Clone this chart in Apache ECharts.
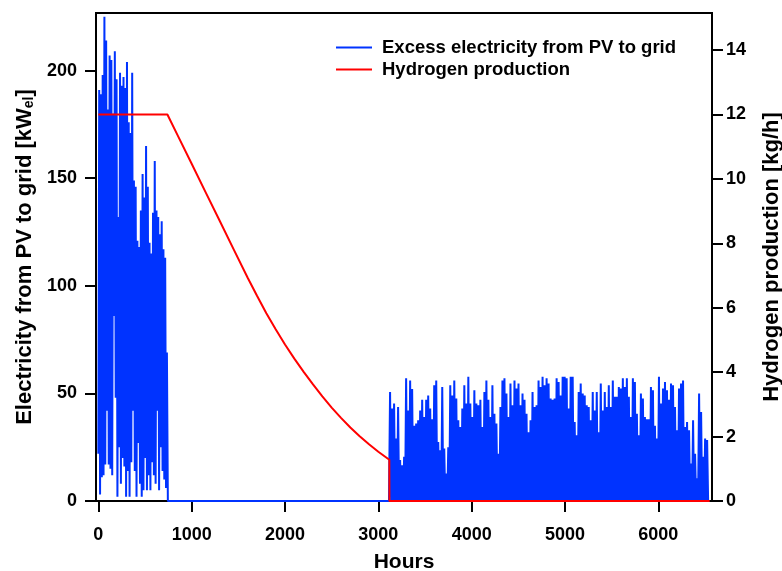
<!DOCTYPE html>
<html>
<head>
<meta charset="utf-8">
<script src="https://cdn.jsdelivr.net/npm/echarts@6/dist/echarts.min.js"></script>
<style>
html,body{margin:0;padding:0;background:#fff;}
#chart{width:782px;height:571px;}
</style>
</head>
<body>
<div id="chart"></div>
<script>
// ---------- DATA ----------
// Segment 1: hours 0..744, alternating troughs / peaks of excess PV power [kW_el]
const seg1Start = 0;
const seg1Step = 18.6; // hours between successive trough/peak pairs
const seg1Peaks = [191, 189, 198, 225, 214, 182, 207, 205, 180, 209, 196, 132, 199, 193, 197, 192, 204, 176, 171, 199,
  149, 146, 121, 118, 135, 152, 141, 165, 146, 120, 115, 134, 158, 135, 132, 124, 130, 117, 113, 69];
const seg1Troughs = [22, 3, 11, 12, 17, 42, 17, 15, 12, 86, 48, 2, 25, 8, 20, 16, 2, 14, 2, 18,
  42, 14, 2, 27, 8, 2, 5, 20, 5, 12, 5, 18, 12, 8, 42, 5, 25, 14, 10, 6];
const zeroSpan = [745, 3114]; // hours with zero excess power
// Segment 2: hours ~3115..6535, daily peaks with zero at night
const seg2Start = 3115;
const seg2Step = 21.5;
const seg2Peaks = [50.7, 43, 45.3, 29, 43.7, 19, 16.6, 20.5, 57, 42, 56, 52, 35, 36, 37.5, 42, 47, 39, 47, 49,
  43, 38, 53.8, 56, 27.4, 23.6, 53, 24.4, 12.8, 25, 53.8, 49, 56, 47.6, 37.5, 34.4, 43, 53.8, 45.3, 57.7,
  45.3, 39, 51.5, 45.3, 44.5, 47, 34.4, 50.7, 56, 47, 39, 53.8, 40.6, 36, 22, 43.7, 56, 57, 50, 39,
  54.6, 44.5, 56, 52.3, 54.6, 44.5, 50, 47, 40.6, 32, 37.5, 50.7, 43.7, 44.5, 56, 53, 57.7, 53.8, 57, 54.6,
  47.6, 47, 47.6, 57, 55.3, 49, 57.7, 57.7, 57, 43, 57.7, 57.7, 36.7, 30.6, 50.7, 54.6, 50, 49, 44.5, 43.7,
  37.5, 50.7, 42, 50.7, 32, 54.6, 42, 50.7, 43.7, 53.8, 43.7, 56, 48.4, 48.4, 53, 52.3, 57, 53, 57, 48.4,
  39, 57, 55.3, 40.6, 30.6, 50, 47.6, 39, 38, 38, 53, 51.5, 35, 29, 57.7, 45.3, 52.3, 55.3, 51.5, 47,
  54.6, 53.8, 43.7, 32.9, 52.3, 54.6, 56, 34.4, 36.7, 32.9, 17.4, 37.5, 22, 10.5, 50, 41.4, 20.5, 29, 28.4];

// Hydrogen production [kg/h]
const h2Hours = [0, 740, 850, 1000, 1150, 1300, 1450, 1600, 1700, 1800, 1900, 2000, 2100, 2200, 2300, 2400,
  2500, 2600, 2700, 2800, 2900, 3000, 3118, 3119, 6550];
const h2Values = [12, 12, 11.35, 10.47, 9.58, 8.70, 7.81, 6.93, 6.37, 5.83, 5.33, 4.86, 4.42, 4.01, 3.62, 3.25,
  2.90, 2.58, 2.28, 2.01, 1.76, 1.53, 1.28, 0, 0];

const xTicks = [0, 1000, 2000, 3000, 4000, 5000, 6000];
const yLeftTicks = [0, 50, 100, 150, 200];
const yRightTicks = [0, 2, 4, 6, 8, 10, 12, 14];
const seriesNames = ['Excess electricity from PV to grid', 'Hydrogen production'];

// ---------- build series ----------
const pvData = [];
for (let i = 0; i < seg1Peaks.length; i++) {
  const t = seg1Start + i * seg1Step;
  pvData.push([t, seg1Troughs[i]]);
  pvData.push([t + seg1Step / 2, seg1Peaks[i]]);
}
pvData.push([zeroSpan[0], 0]);
pvData.push([zeroSpan[1], 0]);
for (let i = 0; i < seg2Peaks.length; i++) {
  const t = seg2Start + i * seg2Step;
  pvData.push([t, 0]);
  pvData.push([t + seg2Step / 2, seg2Peaks[i]]);
}
pvData.push([seg2Start + seg2Peaks.length * seg2Step, 0]);
const h2Data = h2Hours.map((h, i) => [h, h2Values[i]]);

const FONT = '"Liberation Sans", Arial, Helvetica, sans-serif';
const chart = echarts.init(document.getElementById('chart'), null, {renderer: 'canvas'});
const axisLine = {show: true, onZero: false, lineStyle: {color: '#000', width: 2}};
const tickStyle = {lineStyle: {color: '#000', width: 2}};
const labelStyle = {color: '#000', fontSize: 18, fontWeight: 'bold', fontFamily: FONT};
const plain = v => String(v);

chart.setOption({
  animation: false,
  backgroundColor: '#fff',
  grid: {left: 96, right: 70, top: 13, bottom: 70, show: true, borderColor: '#000', borderWidth: 2,
    containLabel: false, outerBoundsMode: 'none'},
  legend: {
    data: seriesNames,
    orient: 'vertical',
    left: 331, top: 33,
    icon: 'rect', itemWidth: 36, itemHeight: 2, itemGap: 3,
    textStyle: {color: '#000', fontSize: 18.5, fontWeight: 'bold', fontFamily: FONT, padding: [0, 0, 0, 5]}
  },
  xAxis: {
    type: 'value', min: -25, max: 6575,
    name: 'Hours', nameLocation: 'middle', nameGap: 51,
    nameTextStyle: {color: '#000', fontSize: 21, fontWeight: 'bold', fontFamily: FONT},
    axisLine: axisLine,
    axisTick: {show: true, inside: false, length: 11, customValues: xTicks, ...tickStyle},
    axisLabel: {customValues: xTicks, margin: 25, formatter: plain, ...labelStyle},
    splitLine: {show: false}
  },
  yAxis: [{
    type: 'value', min: 0, max: 226.8, position: 'left',
    name: '{a|Electricity from PV to grid [kW}{s|el}{a|]}', nameLocation: 'middle', nameGap: 53,
    nameTextStyle: {rich: {
      a: {color: '#000', fontSize: 22, fontWeight: 'bold', fontFamily: FONT},
      s: {color: '#000', fontSize: 14, fontWeight: 'bold', fontFamily: FONT, verticalAlign: 'bottom', padding: [9, 0, 0, 0]}
    }},
    axisLine: axisLine,
    axisTick: {show: true, inside: false, length: 11, customValues: yLeftTicks, ...tickStyle},
    axisLabel: {customValues: yLeftTicks, margin: 19, formatter: plain, ...labelStyle},
    splitLine: {show: false}
  }, {
    type: 'value', min: 0, max: 15.15, position: 'right',
    name: 'Hydrogen production [kg/h]', nameLocation: 'middle', nameGap: 49,
    nameTextStyle: {color: '#000', fontSize: 22, fontWeight: 'bold', fontFamily: FONT},
    axisLine: axisLine,
    axisTick: {show: true, inside: false, length: 11, customValues: yRightTicks, ...tickStyle},
    axisLabel: {customValues: yRightTicks, margin: 14, formatter: plain, ...labelStyle},
    splitLine: {show: false}
  }],
  series: [{
    name: seriesNames[0], type: 'line', yAxisIndex: 0, data: pvData,
    showSymbol: false, symbol: 'none', sampling: null,
    lineStyle: {color: '#0033ff', width: 2}, itemStyle: {color: '#0033ff'}, z: 2
  }, {
    name: seriesNames[1], type: 'line', yAxisIndex: 1, data: h2Data,
    showSymbol: false, symbol: 'none',
    lineStyle: {color: '#ff0000', width: 2}, itemStyle: {color: '#ff0000'}, z: 3
  }]
});
</script>
</body>
</html>
